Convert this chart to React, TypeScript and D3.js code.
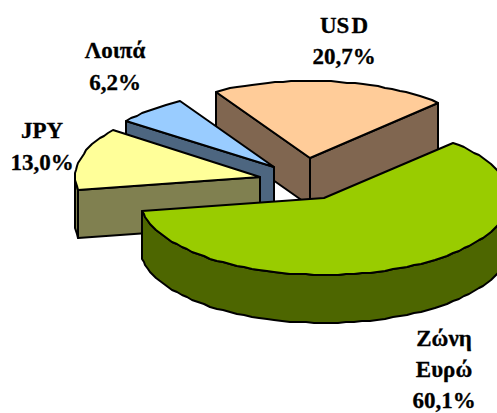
import React from "react";
import * as d3 from "d3";

const categories = ["Ζώνη Ευρώ", "JPY", "Λοιπά", "USD"];
const shares = [60.1, 13.0, 6.2, 20.7];
const shareLabels = ["60,1%", "13,0%", "6,2%", "20,7%"];
const topColors = ["#99CC00", "#FFFF99", "#99CCFF", "#FFCC99"];
const sideColors = ["#4D6600", "#808050", "#4D6680", "#806650"];
const explosion = [46, 44, 44, 56];

const W = 497, H = 413;
const CX = 303, CY = 181, RX = 185, TILT = 0.416, DEPTH = 48;
const deg = Math.PI / 180;

const pie = d3.pie<number>().sort(null).value(d => d)
  .startAngle(44 * deg).endAngle(404 * deg);
const arcs = pie(shares);

type P = [number, number];
const line = d3.line<P>();

function App() {
  const slices = arcs.map((a, i) => {
    const a0 = a.startAngle - Math.PI / 2;
    const a1 = a.endAngle - Math.PI / 2;
    const mid = (a0 + a1) / 2;
    const ox = CX + explosion[i] * Math.cos(mid);
    const oy = CY + explosion[i] * Math.sin(mid) * TILT;
    const at = (t: number, dy = 0): P => [
      Math.round(ox + RX * Math.cos(t)),
      Math.round(oy + RX * TILT * Math.sin(t) + dy),
    ];
    const n = Math.max(3, Math.round((a1 - a0) / (2.5 * deg)));
    const ts = d3.range(n + 1).map(k => a0 + ((a1 - a0) * k) / n);
    const apex: P = [Math.round(ox), Math.round(oy)];
    const top = [apex, ...ts.map(t => at(t))];
    const walls: P[][] = [];
    const radial = (t: number): P[] => {
      const e = at(t);
      return [apex, e, [e[0], e[1] + DEPTH], [apex[0], apex[1] + DEPTH]];
    };
    if (Math.cos(a0) < 0) walls.push(radial(a0));
    if (Math.cos(a1) > 0) walls.push(radial(a1));
    const front = ts.filter(t => Math.sin(t) > -0.02);
    if (front.length > 1) {
      walls.push([
        ...front.map(t => at(t)),
        ...front.slice().reverse().map(t => at(t, DEPTH)),
      ]);
    }
    return { i, top, walls };
  });
  const order = [3, 2, 1, 0];

  const font = { fontFamily: "'Liberation Serif', serif", fontWeight: 700, fontSize: 23, fill: "#000", stroke: "#000", strokeWidth: 0.3, textAnchor: "middle" } as const;

  return (
    <svg width={W} height={H} style={{ position: "absolute", left: 0, top: 0, background: "#fff" }}>
      {order.map(idx => {
        const s = slices[idx];
        return (
          <g key={idx} stroke="#000" strokeWidth={2} strokeLinejoin="round">
            {s.walls.map((w, j) => (
              <path key={j} d={line(w)! + "Z"} fill={sideColors[idx]} />
            ))}
            <path d={line(s.top)! + "Z"} fill={topColors[idx]} />
          </g>
        );
      })}
      <g {...font}>
        <text x={344} y={33}>US<tspan dx={2}>D</tspan></text>
        <text x={344} y={64}>{shareLabels[3]}</text>
        <text x={115} y={58}>{categories[2]}</text>
        <text x={115} y={90}>{shareLabels[2]}</text>
        <text x={42} y={138}>{categories[1]}</text>
        <text x={42} y={170}>{shareLabels[1]}</text>
        <text x={444} y={346}>{categories[0].split(" ")[0]}</text>
        <text x={444} y={377}>{categories[0].split(" ")[1]}</text>
        <text x={444} y={408}>{shareLabels[0]}</text>
      </g>
    </svg>
  );
}

export default App;
